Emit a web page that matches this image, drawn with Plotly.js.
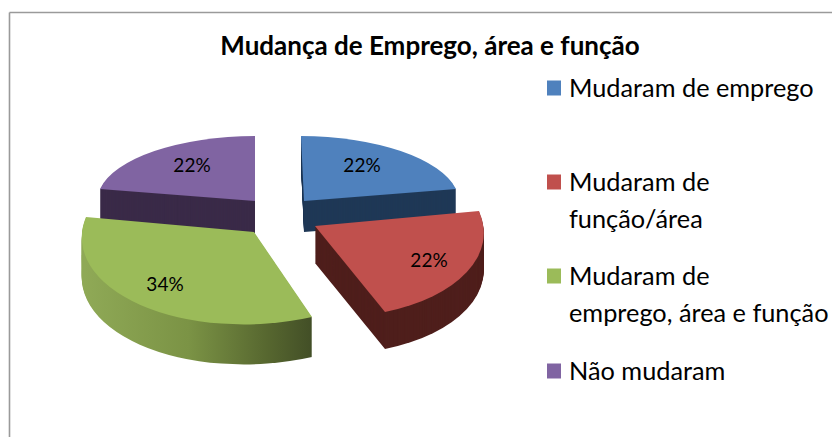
<!DOCTYPE html>
<html>
<head>
<meta charset="utf-8">
<script src="https://cdn.plot.ly/plotly-3.0.1.min.js"></script>
<style>html,body{margin:0;padding:0;background:#fff;overflow:hidden}#chart{width:832px;height:437px}</style>
</head>
<body>
<div id="chart"></div>
<script>
var chartTitle = 'Mudança de Emprego, área e função';
var categories = ['Mudaram de emprego', 'Mudaram de<br>função/área', 'Mudaram de<br>emprego, área e função', 'Não mudaram'];
var shareValues = [22, 22, 34, 22];
var topColors = ['#4f81bd', '#c0504d', '#9bbb59', '#8064a2'];
var wallColors = ['#1f3856', '#4f1f1c', 'url(#greenWall)', '#3a2a48'];

// Screen projection of each slice (3D look): apex, rim at slice start, rim at slice end, wall height
var sliceApex = [[304, 201], [315, 226], [254, 232], [255, 201]];
var sliceRimStart = [[301, 136], [479, 211], [312, 317], [100, 189]];
var sliceRimEnd = [[456, 189], [385, 312], [86, 217], [255, 136]];
var sliceDepth = [31, 37, 40, 32];
var labelCentres = [[362, 164], [429, 259], [165, 283], [192, 164]];
var paintOrder = [3, 0, 1, 2];
var legendFirstLineY = [88, 182, 276, 371];
var legendSwatchX = 554, legendTextX = 569, legendLineGap = 37;

var W = 832, H = 437;
var data = [{
  type: 'pie',
  labels: categories,
  values: shareValues,
  sort: false,
  direction: 'clockwise',
  rotation: 0,
  marker: {colors: topColors, line: {width: 0}},
  textinfo: 'percent',
  textposition: 'inside',
  insidetextorientation: 'horizontal',
  textfont: {family: 'Lato', size: 19, color: '#000'},
  insidetextfont: {family: 'Lato', size: 19, color: '#000'},
  hoverinfo: 'none',
  domain: {x: [0.1, 0.5], y: [0.2, 0.8]}
}];
var layout = {
  width: W, height: H,
  margin: {l: 0, r: 0, t: 0, b: 0},
  paper_bgcolor: '#fff',
  font: {family: 'Lato', color: '#000'},
  title: {text: '<b>' + chartTitle + '</b>', x: 430 / W, xanchor: 'center', xref: 'paper',
          y: 1 - 46 / H, yanchor: 'middle', yref: 'container', font: {family: 'Lato', size: 26, color: '#000'}},
  showlegend: true,
  legend: {x: 0.3, y: 0.85, xanchor: 'left', yanchor: 'top', font: {family: 'Lato', size: 25.3, color: '#000'},
           bgcolor: 'rgba(0,0,0,0)', traceorder: 'normal'},
  shapes: [
    {type: 'line', xref: 'paper', yref: 'paper', x0: 9.5 / W, x1: 9.5 / W, y0: 1 - 12.5 / H, y1: 0, line: {color: '#9a9a9a', width: 1.6}},
    {type: 'line', xref: 'paper', yref: 'paper', x0: 9.5 / W, x1: 1, y0: 1 - 12.5 / H, y1: 1 - 12.5 / H, line: {color: '#9a9a9a', width: 1.6}}
  ]
};

var gd = document.getElementById('chart');
Plotly.newPlot(gd, data, layout, {displayModeBar: false, staticPlot: true}).then(function () {
  var cd0 = gd.calcdata[0][0];
  var cx = cd0.cx, cy = cd0.cy, r = cd0.r;
  var total = shareValues.reduce(function (a, b) { return a + b; }, 0);
  var layer = gd.querySelector('.pielayer');
  var slices = Array.prototype.slice.call(layer.querySelectorAll('g.slice'));
  var svgNS = 'http://www.w3.org/2000/svg';
  var host = document.createElementNS(svgNS, 'g');
  layer.appendChild(host);

  var cum = 0, mats = [];
  shareValues.forEach(function (v, i) {
    var t0 = cum / total * 2 * Math.PI; cum += v;
    var t1 = cum / total * 2 * Math.PI;
    var p = [r * Math.sin(t0), -r * Math.cos(t0)], q = [r * Math.sin(t1), -r * Math.cos(t1)];
    var u = [sliceRimStart[i][0] - sliceApex[i][0], sliceRimStart[i][1] - sliceApex[i][1]];
    var w = [sliceRimEnd[i][0] - sliceApex[i][0], sliceRimEnd[i][1] - sliceApex[i][1]];
    var det = p[0] * q[1] - q[0] * p[1];
    var a = (u[0] * q[1] - w[0] * p[1]) / det, c = (w[0] * p[0] - u[0] * q[0]) / det;
    var b = (u[1] * q[1] - w[1] * p[1]) / det, d = (w[1] * p[0] - u[1] * q[0]) / det;
    mats.push([a, b, c, d, sliceApex[i][0] - a * cx - c * cy, sliceApex[i][1] - b * cx - d * cy]);
  });

  // gradient for the green wall, expressed in the slice's own coordinates
  var m = mats[2], dt = m[0] * m[3] - m[1] * m[2];
  var inv = [m[3] / dt, -m[1] / dt, -m[2] / dt, m[0] / dt,
             (m[2] * m[5] - m[3] * m[4]) / dt, (m[1] * m[4] - m[0] * m[5]) / dt];
  var defs = document.createElementNS(svgNS, 'defs');
  defs.innerHTML = '<linearGradient id="greenWall" gradientUnits="userSpaceOnUse" x1="85" y1="0" x2="315" y2="0" gradientTransform="matrix(' + inv.join(' ') + ')">' +
    '<stop offset="0" stop-color="#8fa956"/><stop offset="0.45" stop-color="#7b9345"/><stop offset="0.8" stop-color="#56662f"/><stop offset="1" stop-color="#414d26"/></linearGradient>';
  host.appendChild(defs);

  paintOrder.forEach(function (i) {
    var g = slices[i], path = g.querySelector('path.surface');
    var mat = mats[i];
    for (var z = sliceDepth[i]; z >= 1; z--) {
      var cl = path.cloneNode(false);
      cl.setAttribute('transform', 'translate(0,' + z + ') matrix(' + mat.join(' ') + ')');
      cl.style.fill = wallColors[i];
      cl.style.stroke = 'none';
      host.appendChild(cl);
    }
    path.setAttribute('transform', 'matrix(' + mat.join(' ') + ')');
    host.appendChild(g);
    var tx = g.querySelector('text');
    if (tx) {
      tx.removeAttribute('transform');
      tx.style.fontFamily = 'Lato';
      tx.style.fontSize = '19px';
      var bb = tx.getBBox();
      tx.setAttribute('transform', 'translate(' + (labelCentres[i][0] - bb.x - bb.width / 2) + ',' + (labelCentres[i][1] - bb.y - bb.height / 2) + ')');
    }
  });

  // legend placement
  var leg = gd.querySelector('g.legend');
  leg.setAttribute('transform', 'translate(0,0)');
  var box = leg.querySelector('.scrollbox');
  box.removeAttribute('clip-path');
  box.setAttribute('transform', 'translate(0,0)');
  var items = leg.querySelectorAll('g.traces');
  Array.prototype.forEach.call(items, function (it, i) {
    it.setAttribute('transform', 'translate(0,' + legendFirstLineY[i] + ')');
    var sw = it.querySelector('.legendpoints path');
    sw.setAttribute('transform', 'translate(' + legendSwatchX + ',0) scale(1.17,1.25)');
    var text = it.querySelector('text.legendtext');
    var size = 25.3 * 0.35;
    text.setAttribute('x', legendTextX); text.setAttribute('y', size);
    var lines = text.querySelectorAll('tspan.line');
    Array.prototype.forEach.call(lines, function (ln, k) {
      ln.setAttribute('x', legendTextX);
      ln.setAttribute('y', size + k * legendLineGap);
      ln.removeAttribute('dy');
    });
  });
});
</script>
</body>
</html>
